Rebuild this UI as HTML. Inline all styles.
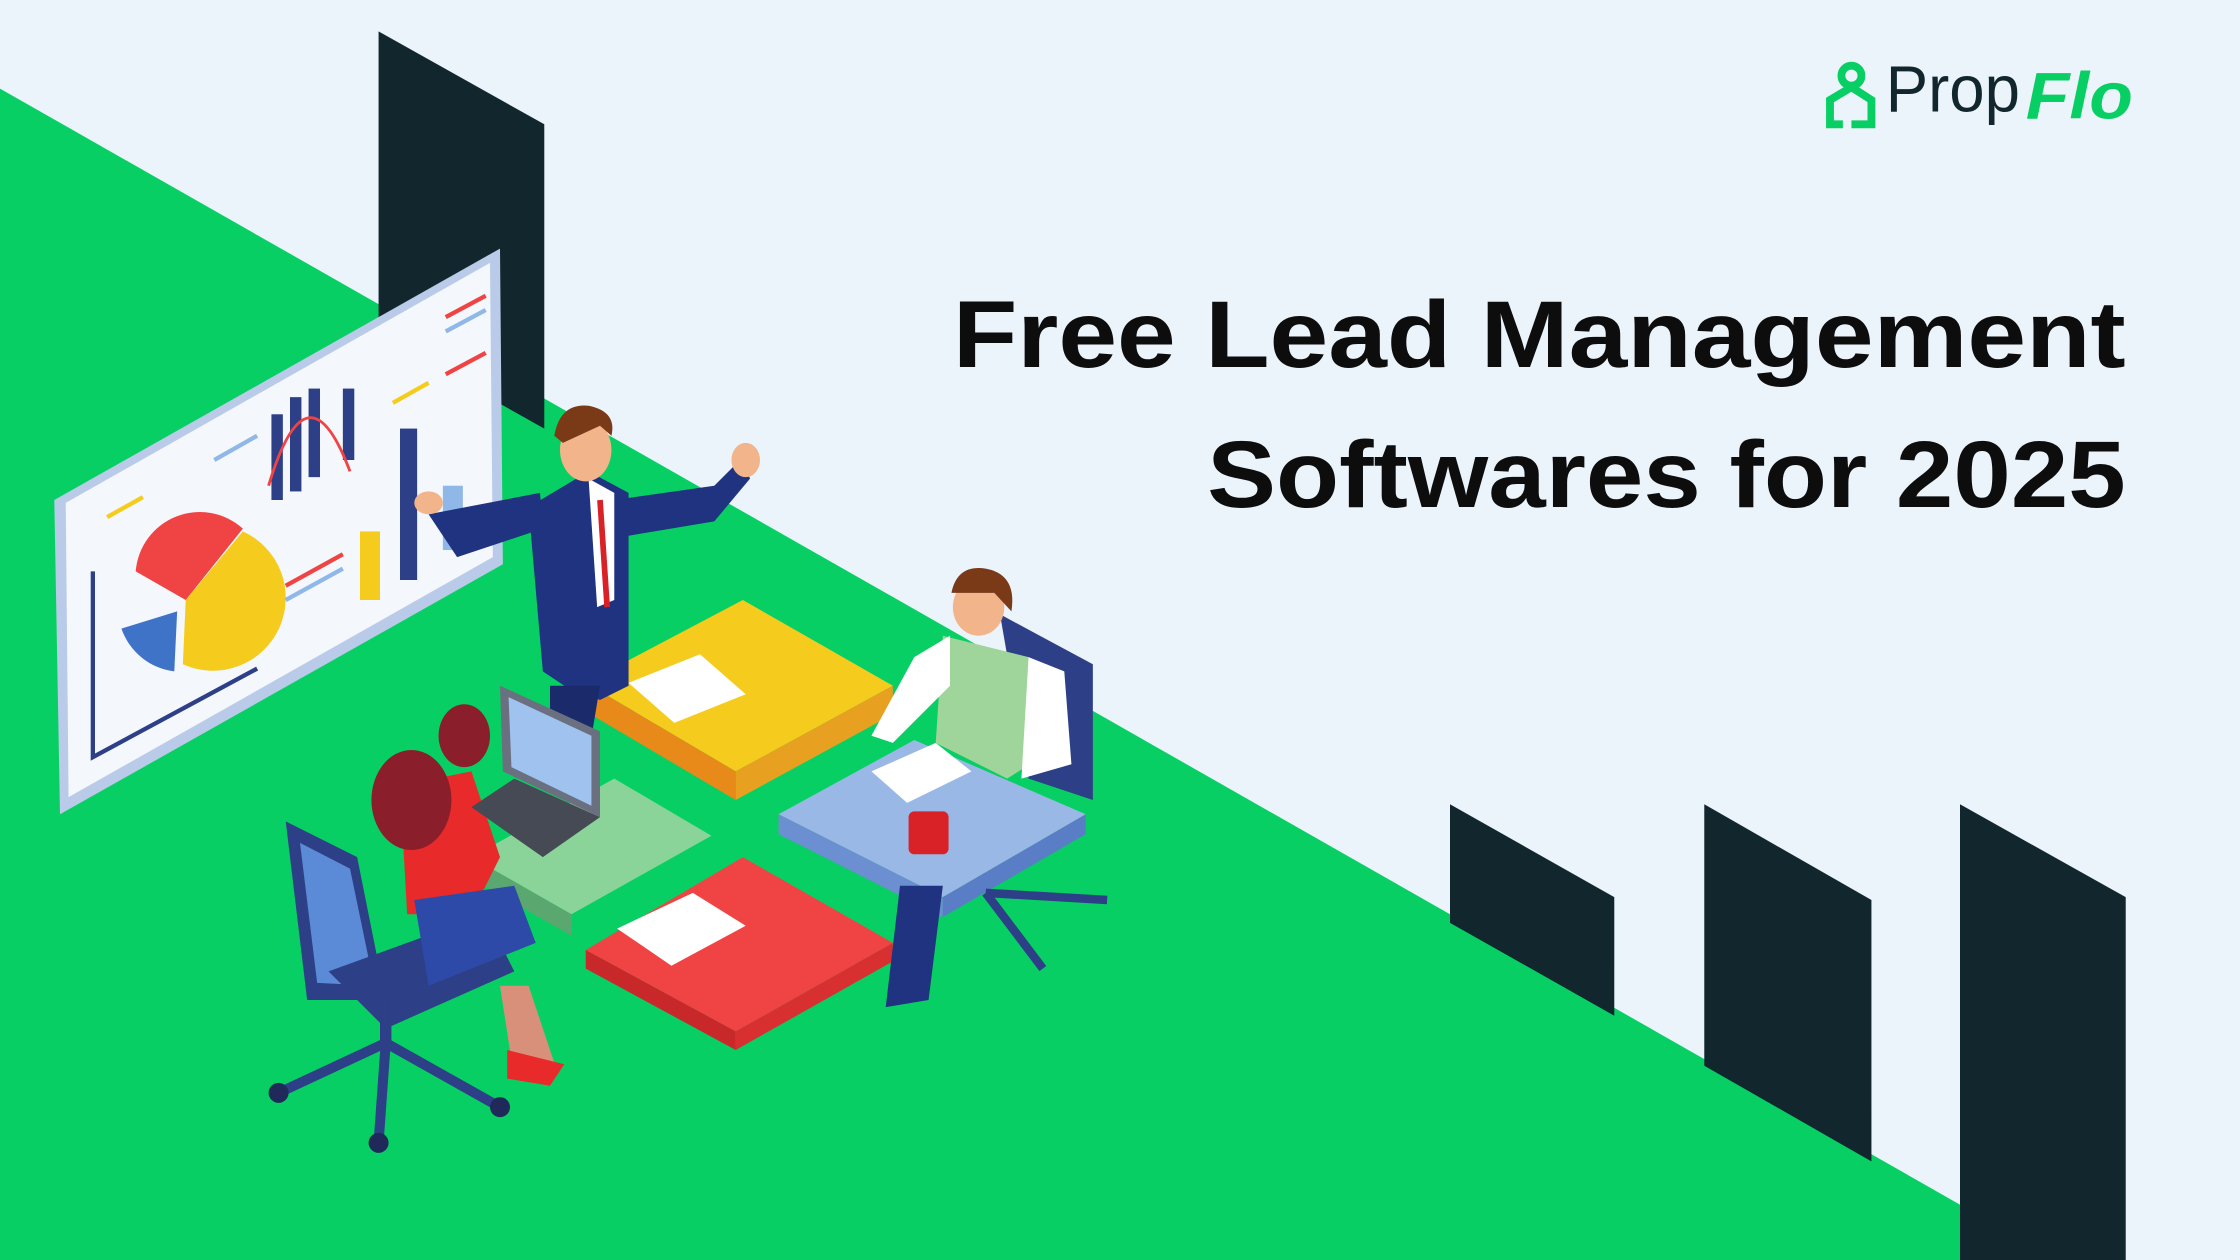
<!DOCTYPE html>
<html><head><meta charset="utf-8"><style>
html,body{margin:0;padding:0;background:#ebf3fb;}
svg{display:block}
</style></head><body>
<svg width="2240" height="1260" viewBox="0 0 1568 882" xmlns="http://www.w3.org/2000/svg">
<rect width="1568" height="882" fill="#ebf3fb"/>
<polygon points="0,62 1440,882 0,882" fill="#08cf63"/>
<polygon points="265,22 381,87 381,300 265,235" fill="#12262d"/>
<polygon points="1015,563 1130,628 1130,711 1015,646" fill="#12262d"/>
<polygon points="1193,563 1310,630 1310,813 1193,746" fill="#12262d"/>
<polygon points="1372,563 1488,628 1488,882 1372,882 1372,845" fill="#12262d"/>
<!-- whiteboard -->
<polygon points="38,350 350,174 352,395 42,570" fill="#b9cbe8"/>
<polygon points="46,352 343,184 345,390 48,558" fill="#f4f7fc"/>
<path d="M95,400 A45,45 0 0 1 170,370 L130,420 Z" fill="#f04444"/>
<path d="M170,372 A45,45 0 0 1 128,465 L130,420 Z" fill="#f5cc1e"/>
<path d="M122,470 A45,45 0 0 1 85,440 L124,428 Z" fill="#3f73c8"/>
<polyline points="65,400 65,530 180,468" fill="none" stroke="#2d3f86" stroke-width="3"/>
<rect x="190" y="290" width="8" height="60" fill="#2d3f86"/>
<rect x="203" y="278" width="8" height="66" fill="#2d3f86"/>
<rect x="216" y="272" width="8" height="62" fill="#2d3f86"/>
<rect x="240" y="272" width="8" height="50" fill="#2d3f86"/>
<path d="M188,340 Q215,250 245,330" fill="none" stroke="#f04444" stroke-width="2"/>
<rect x="252" y="372" width="14" height="48" fill="#f5cc1e"/>
<rect x="280" y="300" width="12" height="106" fill="#2d3f86"/>
<rect x="310" y="340" width="14" height="45" fill="#8fb8e8"/>
<g stroke-width="3"><line x1="312" y1="222" x2="340" y2="207" stroke="#f04444"/><line x1="312" y1="232" x2="340" y2="217" stroke="#8fb8e8"/><line x1="312" y1="262" x2="340" y2="247" stroke="#f04444"/><line x1="275" y1="282" x2="300" y2="268" stroke="#f5cc1e"/><line x1="150" y1="322" x2="180" y2="305" stroke="#8fb8e8"/><line x1="75" y1="362" x2="100" y2="348" stroke="#f5cc1e"/><line x1="200" y1="420" x2="240" y2="398" stroke="#8fb8e8"/><line x1="200" y1="410" x2="240" y2="388" stroke="#f04444"/></g>
<!-- puzzle pieces -->
<polygon points="410,478 520,420 625,480 515,540" fill="#f5cc1e"/>
<polygon points="410,478 515,540 515,560 410,498" fill="#e88a1a"/>
<polygon points="515,540 625,480 625,500 515,560" fill="#e8a020"/>
<polygon points="330,600 430,545 498,585 400,640" fill="#8ad49a"/>
<polygon points="330,600 400,640 400,655 330,615" fill="#5aa870"/>
<polygon points="410,665 520,600 625,660 515,722" fill="#f04444"/>
<polygon points="410,665 515,722 515,735 410,678" fill="#c8282a"/>
<polygon points="515,722 625,660 625,673 515,735" fill="#d83030"/>
<polygon points="545,570 640,518 760,570 660,628" fill="#9ab8e6"/>
<polygon points="545,570 660,628 660,642 545,584" fill="#6b8fd0"/>
<polygon points="660,628 760,570 760,584 660,642" fill="#5a7ec6"/>
<polygon points="440,478 490,458 522,486 472,506" fill="#fff"/>
<polygon points="432,650 485,625 522,648 470,676" fill="#fff"/>
<polygon points="610,540 655,520 680,540 635,562" fill="#fff"/>
<rect x="636" y="568" width="28" height="30" rx="4" fill="#d82228"/>
<!-- standing man -->
<polygon points="370,355 412,330 440,345 440,480 420,490 395,480 380,470" fill="#1f3380"/>
<polygon points="300,360 320,390 380,370 378,345" fill="#1f3380"/>
<polygon points="430,350 500,340 520,320 525,335 500,365 440,375" fill="#1f3380"/>
<polygon points="412,335 430,345 430,420 418,425" fill="#fff"/>
<line x1="420" y1="350" x2="425" y2="425" stroke="#d82228" stroke-width="4"/>
<ellipse cx="410" cy="315" rx="18" ry="22" fill="#f2b48a"/>
<path d="M388,305 Q392,282 412,284 Q432,288 428,305 L420,298 L394,310 Z" fill="#7a3a18"/>
<polygon points="385,480 420,480 410,540 385,530" fill="#1a2a6a"/>
<ellipse cx="300" cy="352" rx="10" ry="8" fill="#f2b48a"/>
<ellipse cx="522" cy="322" rx="10" ry="12" fill="#f2b48a"/>
<!-- seated man & chair -->
<polygon points="700,430 765,465 765,560 720,545" fill="#2d3f86"/>
<polygon points="660,445 720,460 745,520 705,545 655,520" fill="#9fd49a"/>
<polygon points="640,460 665,445 665,480 625,520 610,515" fill="#fff"/>
<polygon points="720,460 745,470 750,535 715,545" fill="#fff"/>
<ellipse cx="685" cy="425" rx="18" ry="20" fill="#f2b48a"/>
<path d="M666,415 Q670,395 690,398 Q712,402 708,428 L696,415 Z" fill="#7a3a18"/>
<polygon points="630,620 660,620 650,700 620,705" fill="#1f3380"/>
<line x1="690" y1="625" x2="775" y2="630" stroke="#2d3f86" stroke-width="6"/>
<line x1="690" y1="625" x2="730" y2="678" stroke="#2d3f86" stroke-width="6"/>
<!-- woman & chair -->
<polygon points="200,575 250,600 270,700 215,700" fill="#2d3f86"/>
<polygon points="210,590 245,608 262,690 222,688" fill="#5b8ad6"/>
<polygon points="230,680 340,640 360,680 270,720" fill="#2d3f86"/>
<polygon points="280,550 330,540 350,600 330,640 285,640" fill="#e82a2a"/>
<polygon points="290,630 360,620 375,660 300,690" fill="#2d4aa8"/>
<ellipse cx="288" cy="560" rx="28" ry="35" fill="#8a1e2a"/>
<ellipse cx="325" cy="515" rx="18" ry="22" fill="#8a1e2a"/>
<polygon points="350,690 370,690 390,750 360,755" fill="#d8907a"/>
<polygon points="355,735 395,745 385,760 355,755" fill="#e82a2a"/>
<line x1="270" y1="730" x2="195" y2="765" stroke="#2d3f86" stroke-width="7"/>
<line x1="270" y1="730" x2="265" y2="800" stroke="#2d3f86" stroke-width="7"/>
<line x1="270" y1="730" x2="350" y2="775" stroke="#2d3f86" stroke-width="7"/>
<line x1="270" y1="700" x2="270" y2="735" stroke="#2d3f86" stroke-width="8"/>
<circle cx="195" cy="765" r="7" fill="#1f2a5a"/><circle cx="265" cy="800" r="7" fill="#1f2a5a"/><circle cx="350" cy="775" r="7" fill="#1f2a5a"/>
<!-- laptop -->
<polygon points="350,480 420,512 420,572 352,540" fill="#6a7080"/>
<polygon points="356,488 414,515 414,564 358,537" fill="#9fc2ef"/>
<polygon points="330,565 360,545 420,572 380,600" fill="#454a55"/>
<!-- title -->
<g font-family="Liberation Sans, sans-serif" font-weight="bold" fill="#0d0d0d" font-size="66">
<text x="667" y="257" textLength="821" lengthAdjust="spacingAndGlyphs">Free Lead Management</text>
<text x="845" y="355" textLength="643" lengthAdjust="spacingAndGlyphs">Softwares for 2025</text>
</g>
<!-- logo -->
<g fill="none" stroke="#08cf63" stroke-width="5.5">
<circle cx="1296" cy="53" r="7"/>
<path d="M1290,87 L1281,87 L1281,70 L1296,61 L1310,70 L1310,87 L1296,87"/>
</g>
<text x="1320" y="78" font-family="Liberation Sans, sans-serif" font-size="46" fill="#12262d" textLength="94" lengthAdjust="spacingAndGlyphs">Prop</text>
<text x="1418" y="83" font-family="Liberation Sans, sans-serif" font-size="46" font-weight="bold" font-style="italic" fill="#08cf63" textLength="75" lengthAdjust="spacingAndGlyphs">Flo</text>
</svg>
</body></html>
